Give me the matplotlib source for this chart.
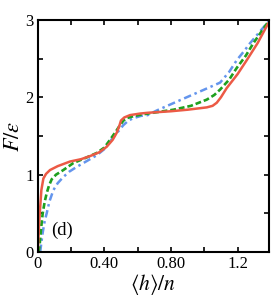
import numpy as np
import matplotlib
matplotlib.use('Agg')
import matplotlib.pyplot as plt
from matplotlib.ticker import MultipleLocator

plt.rcParams['font.family'] = ['Liberation Serif', 'DejaVu Serif']
plt.rcParams['mathtext.fontset'] = 'stix'

# values
red_x = [0.0, 0.004, 0.008, 0.014, 0.022, 0.034, 0.05, 0.074, 0.12, 0.194, 0.26, 0.314,
         0.37, 0.414, 0.45, 0.474, 0.49, 0.50, 0.52, 0.554, 0.614, 0.66, 0.8, 0.9,
         1.015, 1.05, 1.075, 1.1, 1.135, 1.2, 1.255, 1.32, 1.385]
red_y = [0.0, 0.15, 0.35, 0.55, 0.80, 0.95, 1.01, 1.06, 1.11, 1.17, 1.20, 1.24,
         1.29, 1.36, 1.45, 1.54, 1.63, 1.70, 1.74, 1.77, 1.79, 1.80, 1.82, 1.84,
         1.87, 1.89, 1.93, 2.00, 2.12, 2.30, 2.48, 2.70, 2.96]

green_x = [0.006, 0.012, 0.02, 0.03, 0.042, 0.054, 0.068, 0.084, 0.11, 0.154, 0.214, 0.28,
           0.354, 0.40, 0.434, 0.47, 0.494, 0.515, 0.534, 0.58, 0.66, 0.815, 0.92,
           1.015, 1.06, 1.095, 1.15, 1.195, 1.25, 1.295, 1.34, 1.385]
green_y = [0.0, 0.1, 0.3, 0.5, 0.65, 0.76, 0.86, 0.94, 1.0, 1.06, 1.15, 1.21,
           1.28, 1.35, 1.45, 1.56, 1.64, 1.70, 1.73, 1.76, 1.79, 1.84, 1.89,
           1.97, 2.03, 2.10, 2.23, 2.38, 2.54, 2.70, 2.84, 2.98]

blue_x = [0.015, 0.022, 0.03, 0.042, 0.054, 0.07, 0.094, 0.12, 0.154, 0.19, 0.234, 0.29,
          0.354, 0.40, 0.434, 0.48, 0.514, 0.545, 0.574, 0.62, 0.66, 0.715, 0.82,
          0.915, 1.0, 1.095, 1.15, 1.195, 1.24, 1.275, 1.33, 1.385]
blue_y = [0.0, 0.12, 0.25, 0.40, 0.50, 0.65, 0.80, 0.89, 0.97, 1.04, 1.10, 1.17,
          1.25, 1.33, 1.43, 1.55, 1.64, 1.70, 1.73, 1.76, 1.77, 1.83, 1.93,
          2.02, 2.10, 2.19, 2.33, 2.48, 2.60, 2.70, 2.84, 2.98]

fig = plt.figure(figsize=(2.74, 2.98), dpi=100)
ax = fig.add_axes([37.7 / 274, 46 / 298, (268.7 - 37.7) / 274, (252 - 20) / 298])

ax.plot(blue_x, blue_y, color='#6495ed', lw=1.8, ls=(0, (3, 1.5, 1, 1.5)))
ax.plot(green_x, green_y, color='#1ea01e', lw=1.9, ls=(0, (2.2, 1.1)))
ax.plot(red_x, red_y, color='#ec5a45', lw=1.8, solid_capstyle='round')

ax.set_xlim(0, 1.387)
ax.set_ylim(0, 3)
ax.xaxis.set_minor_locator(MultipleLocator(0.2))
ax.yaxis.set_major_locator(MultipleLocator(1))
ax.yaxis.set_minor_locator(MultipleLocator(0.5))
ax.set_xticks([0, 0.4, 0.8, 1.2])
ax.set_xticklabels(['0', '0.40', '0.80', '1.2'])
ax.tick_params(which='both', direction='in', top=True, right=True, width=1.2,
               length=3.5, labelsize=12, pad=3)
for s in ax.spines.values():
    s.set_linewidth(1.5)

ax.set_xlabel(r'$\langle h\rangle/n$', fontsize=15.5, labelpad=0)
ax.set_ylabel(r'$F/\epsilon$', fontsize=16, labelpad=1)
ax.text(0.08, 0.22, '(d)', fontsize=13.5)

fig.savefig('out.png', dpi=100)
